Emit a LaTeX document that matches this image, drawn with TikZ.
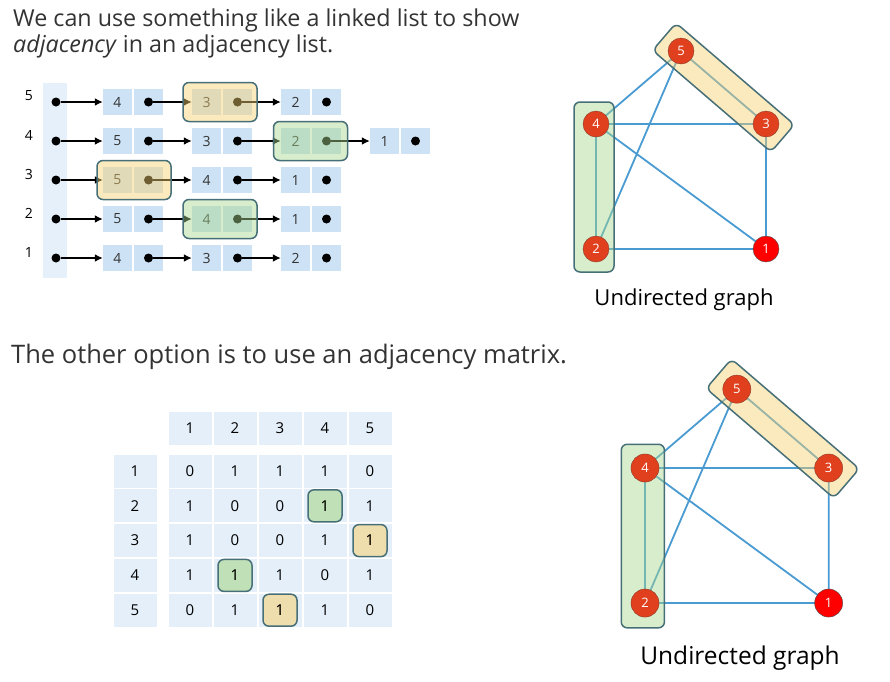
\documentclass[tikz,border=0pt]{standalone}
\usepackage{fontspec}
\setmainfont{Open Sans}
\begin{document}
\begin{tikzpicture}[x=1pt,y=-1pt,
  cell/.style={fill=cellblue,minimum width=29pt,minimum height=26pt,inner sep=0pt,font=\fontsize{14}{14}\selectfont,text=black!80},
  mcell/.style={fill=mblue,minimum width=43pt,minimum height=33pt,inner sep=0pt,font=\fontsize{15}{15}\selectfont},
  dot/.style={circle,fill=black,inner sep=0pt,minimum size=9pt},
  lnk/.style={line width=2pt,-{Latex[length=8pt,width=8pt]}},
  hly/.style={draw=hlborder,line width=1.5pt,fill=hlyellow,fill opacity=0.45,rounded corners=6pt},
  hlg/.style={draw=hlborder,line width=1.5pt,fill=hlgreen,fill opacity=0.45,rounded corners=6pt},
  gnode/.style={circle,draw=nodeborder,fill=nodeorange,text=white,inner sep=0pt,minimum size=24pt,font=\fontsize{13}{13}\selectfont},
  gedge/.style={draw=edgeblue,line width=1.8pt},
  txt/.style={inner sep=0pt,anchor=west,font=\fontsize{23.3}{25}\selectfont,text=black!80}]
\definecolor{cellblue}{HTML}{CDE2F4}
\definecolor{mblue}{HTML}{E4EFF9}
\definecolor{headblue}{HTML}{E6F0FA}
\definecolor{hlyellow}{HTML}{F8D170}
\definecolor{hlgreen}{HTML}{A9D98C}
\definecolor{hlborder}{HTML}{466F78}
\definecolor{nodeorange}{HTML}{E0401E}
\definecolor{nodeborder}{HTML}{8A3A2A}
\definecolor{edgeblue}{HTML}{4A9BD2}
\usetikzlibrary{arrows.meta}
\useasboundingbox (0,0) rectangle (890,681);
\fill[white] (0,0) rectangle (890,681);
% texts
\node[txt] (t1) at (13,20) {We can use something like a linked list to show};
\node[txt] (t2) at (13,46) {\textit{adjacency} in an adjacency list.};
\node[txt,font=\fontsize{25.5}{27}\selectfont] (t3) at (11,357) {The other option is to use an adjacency matrix.};
% linked lists
\node[fill=headblue,minimum width=24pt,minimum height=195pt,inner sep=0pt] (head) at (55,180.5) {};
\foreach \r/\y/\vals in {5/102/{4,3,2},4/141/{5,3,2,1},3/180/{5,4,1},2/219/{5,4,1},1/258/{4,3,2}}{
  \node[inner sep=0pt,font=\fontsize{14}{14}\selectfont] (lab-\r) at (29,\y-6) {\r};
  \node[dot] (h-\r) at (56,\y) {};
  \foreach \v [count=\i] in \vals {
    \pgfmathsetmacro\xx{103+89*(\i-1)}
    \node[cell] (v-\r-\i) at (\xx+14.5,\y) {\v};
    \node[cell] (p-\r-\i) at (\xx+45.5,\y) {};
    \node[dot] (d-\r-\i) at (p-\r-\i) {};
    \ifnum\i=1
      \draw[lnk] (h-\r) -- (v-\r-\i.west);
    \else
      \pgfmathtruncatemacro\j{\i-1}
      \draw[lnk] (d-\r-\j) -- (v-\r-\i.west);
    \fi
  }
}
\node[hly,minimum width=74pt,minimum height=39pt] (hl1) at (220,102) {};
\node[hlg,minimum width=74pt,minimum height=39pt] (hl2) at (310.5,141) {};
\node[hly,minimum width=74pt,minimum height=39pt] (hl3) at (134,180) {};
\node[hlg,minimum width=74pt,minimum height=39pt] (hl4) at (220,219) {};
% matrix
\foreach \c in {1,...,5}{
  \node[mcell] (mh-\c) at (190+45*\c-45,428) {\c};
  \node[mcell] (mr-\c) at (135,471+34.8*\c-34.8) {\c};
}
\foreach \row [count=\r] in {{0,1,1,1,0},{1,0,0,1,1},{1,0,0,1,1},{1,1,1,0,1},{0,1,1,1,0}}{
  \foreach \v [count=\c] in \row {
    \node[mcell] (m-\r-\c) at (190+45*\c-45,471+34.8*\r-34.8) {\v};
  }
}
\node[hlg,fill opacity=0.6,minimum width=34pt,minimum height=32pt] (mh1) at (m-2-4) {};
\node[hly,fill opacity=0.55,minimum width=34pt,minimum height=32pt] (mh2) at (m-3-5) {};
\node[hlg,fill opacity=0.6,minimum width=34pt,minimum height=32pt] (mh3) at (m-4-2) {};
\node[hly,fill opacity=0.55,minimum width=34pt,minimum height=32pt] (mh4) at (m-5-3) {};
\foreach \r/\c in {2/4,3/5,4/2,5/3}{\node[inner sep=0pt,font=\fontsize{15}{15}\selectfont] at (m-\r-\c) {1};}
% graphs
\newcommand\drawgraph[5]{% prefix, ox, oy, scale, labelfont
\begin{scope}[shift={(#2,#3)},scale=#4]
  \coordinate (#1c5) at (85,-73);
  \coordinate (#1c4) at (0,0);
  \coordinate (#1c3) at (170,0);
  \coordinate (#1c2) at (0,125);
  \coordinate (#1c1) at (170,125);
  \draw[gedge] (#1c5)--(#1c4) (#1c5)--(#1c2) (#1c5)--(#1c3) (#1c4)--(#1c3) (#1c4)--(#1c2) (#1c4)--(#1c1) (#1c2)--(#1c1) (#1c3)--(#1c1);
  \draw[hlg] (-22,-22) rectangle (18,148);
  \node[hly,rotate=-40.65,minimum width=#4*156pt,minimum height=#4*36pt] (#1hy) at (127.5,-36.5) {};
  \node[gnode,minimum size=#4*26pt] (#1n5) at (#1c5) {5};
  \node[gnode,minimum size=#4*26pt] (#1n4) at (#1c4) {4};
  \node[gnode,minimum size=#4*26pt] (#1n3) at (#1c3) {3};
  \node[gnode,minimum size=#4*26pt] (#1n2) at (#1c2) {2};
  \node[gnode,minimum size=#4*26pt,fill=red,draw=black!70] (#1n1) at (#1c1) {1};
  \node[inner sep=0pt,font=\fontsize{#5}{#5}\selectfont] (#1lab) at (88,176) {Undirected graph};
\end{scope}}
\drawgraph{a}{596}{124}{1}{22}
\drawgraph{b}{645}{468}{1.08}{24.5}
\end{tikzpicture}
\end{document}
